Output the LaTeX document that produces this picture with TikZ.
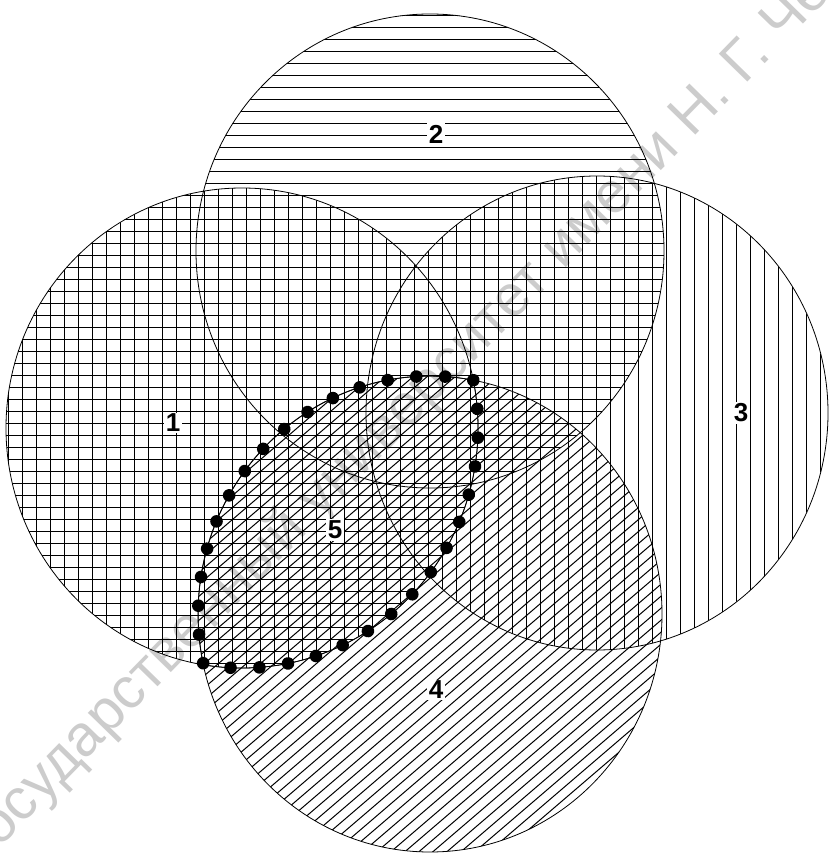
\documentclass[tikz,border=0pt]{standalone}
\usepackage{fontspec}
\setmainfont{Liberation Sans}
\usetikzlibrary{decorations.markings}
\begin{document}
\begin{tikzpicture}[x=1pt,y=-1pt,
  ring/.style={draw=black,line width=0.8pt},
  hatch/.style={line width=1.7pt},
  slant/.style={line width=1pt},
  num/.style={fill=white,inner sep=1.5pt,font=\fontsize{26}{26}\selectfont\bfseries},
  beads/.style={draw=black,line width=0.7pt,postaction={decorate},
    decoration={markings,mark=between positions 0 and 0.98 step 28.9pt with {\fill[black] (0,0) circle (6.3pt);}}}]
\useasboundingbox (0,0) rectangle (829,853);
\begin{scope}
\clip (0,0) rectangle (829,853);
\node[rotate=45.7,anchor=base west,text=black!20,font=\fontsize{58}{58}\selectfont] (stamp) at (-3,851) {осударственный университет имени Н. Г. Че};
\end{scope}
\coordinate (c1) at (242,428);
\coordinate (c2) at (430,251);
\coordinate (c3) at (597,413);
\coordinate (c4) at (430,614);
\coordinate (p) at (473.3,380.2);
% set 1: grid
\begin{scope}
\clip (c1) ellipse[x radius=236pt,y radius=240pt];
\foreach \k in {0,...,70} \draw[hatch] (0,{3.5+12*\k}) -- (829,{3.5+12*\k});
\foreach \k in {0,...,58} \draw[hatch] ({8.5+14*\k},0) -- ({8.5+14*\k},853);
\end{scope}
% set 2: horizontal
\begin{scope}
\clip (c2) ellipse[x radius=234pt,y radius=237pt];
\foreach \k in {0,...,70} \draw[hatch] (0,{3.5+12*\k}) -- (829,{3.5+12*\k});
\end{scope}
% set 3: vertical
\begin{scope}
\clip (c3) ellipse[x radius=231pt,y radius=237pt];
\foreach \k in {0,...,58} \draw[hatch] ({8.5+14*\k},0) -- ({8.5+14*\k},853);
\end{scope}
% set 4: slanted
\begin{scope}
\clip (c4) ellipse[x radius=232pt,y radius=238pt];
\foreach \k in {0,...,131} \draw[slant] ({12.58+14*\k},0) -- ({-982.6+14*\k},853);
\end{scope}
\draw[ring] (c1) ellipse[x radius=236pt,y radius=240pt];
\draw[ring] (c2) ellipse[x radius=234pt,y radius=237pt];
\draw[ring] (c3) ellipse[x radius=231pt,y radius=237pt];
\draw[ring] (c4) ellipse[x radius=232pt,y radius=238pt];
% set 5: lens of 1 and 4
\draw[beads] (p) arc[start angle=11.5,end angle=-99.4,x radius=236pt,y radius=240pt]
    arc[start angle=192.3,end angle=79.2,x radius=232pt,y radius=238pt] -- cycle;
\node[num] (one) at (173,423) {1};
\node[num] (two) at (436,134) {2};
\node[num] (three) at (741,413) {3};
\node[num] (four) at (436,690) {4};
\node[num] (five) at (335,530) {5};
\end{tikzpicture}
\end{document}
